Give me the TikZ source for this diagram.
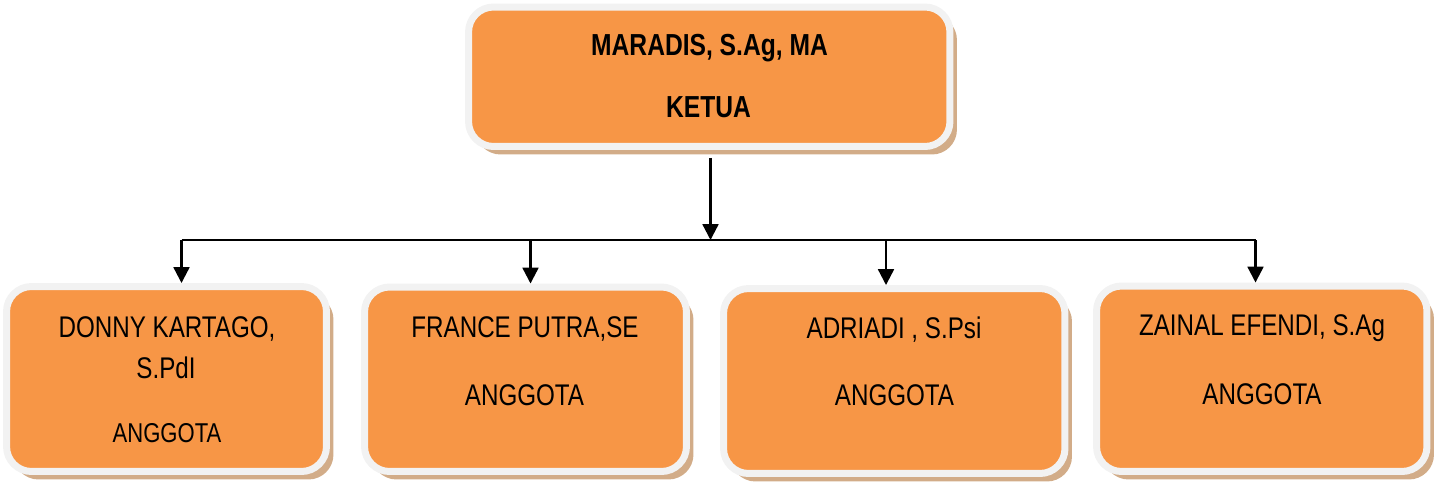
\documentclass[tikz,border=0pt]{standalone}
\usepackage{fontspec}
\setmainfont[FakeStretch=0.81]{Liberation Sans}
\usetikzlibrary{arrows.meta,shadows}

\definecolor{boxorange}{RGB}{247,150,70}
\definecolor{framegray}{RGB}{242,242,242}
\definecolor{shadowbrown}{RGB}{210,172,136}

\tikzset{
  orgbox/.style={draw=framegray, line width=0.14cm, fill=boxorange,
    rounded corners=0.5cm, inner sep=0pt,
    drop shadow={shadow xshift=0.14cm, shadow yshift=-0.16cm,
      fill=shadowbrown, opacity=1}},
  lbl/.style={anchor=base, inner sep=0pt, font=\fontsize{17}{20}\selectfont},
  boldlbl/.style={lbl, font=\fontsize{17.3}{20}\selectfont\bfseries},
  arr/.style={line width=1.3pt, -{Triangle[length=9pt,width=9pt]}},
}

\begin{document}
\begin{tikzpicture}[x=0.02cm,y=-0.02cm]
            \useasboundingbox (0,0) rectangle (1442,484);
            % Boxes
            \node[orgbox, minimum width=9.63cm, minimum height=2.79cm] (ketua) at (709.25,76.75) {};
            \node[orgbox, minimum width=6.4cm, minimum height=3.7cm] (donny) at (166.5,379) {};
            \node[orgbox, minimum width=6.44cm, minimum height=3.69cm] (france) at (525.5,379.25) {};
            \node[orgbox, minimum width=6.83cm, minimum height=3.7cm] (adriadi) at (894.25,381) {};
            \node[orgbox, minimum width=6.61cm, minimum height=3.71cm] (zainal) at (1261.75,378.75) {};
            % Texts
            \node[boldlbl] (ketuaname) at (709.5,55) {MARADIS, S.Ag, MA};
            \node[boldlbl] (ketuarole) at (708.5,117) {KETUA};
            \node[lbl] (donnyname) at (167,337) {DONNY KARTAGO,};
            \node[lbl] (donnytitle) at (166,378) {S.PdI};
            \node[lbl, font=\fontsize{15.5}{18}\selectfont] (donnyrole) at (167,442) {ANGGOTA};
            \node[lbl] (francename) at (525,337) {FRANCE PUTRA,SE};
            \node[lbl] (francerole) at (524.5,405) {ANGGOTA};
            \node[lbl] (adriadiname) at (894,338) {ADRIADI , S.Psi};
            \node[lbl] (adriadirole) at (894.5,405) {ANGGOTA};
            \node[lbl] (zainalname) at (1262,335) {ZAINAL EFENDI, S.Ag};
            \node[lbl] (zainalrole) at (1262,404) {ANGGOTA};
            % Connectors
            \coordinate (split) at (710.5,240);
            \coordinate (b1) at (181.5,240);
            \coordinate (b2) at (530.5,240);
            \coordinate (b3) at (886,240);
            \coordinate (b4) at (1255.5,240);
            \draw[arr, shorten <=0.16cm] (split |- ketua.south) -- (split);
            \draw[line width=1.3pt] (b1) -- (b4);
            \draw[arr] (b1) -- (b1 |- donny.north);
            \draw[arr] (b2) -- (b2 |- france.north);
            \draw[arr] (b3) -- (b3 |- adriadi.north);
            \draw[arr] (b4) -- (b4 |- zainal.north);
        \end{tikzpicture}
\end{document}
